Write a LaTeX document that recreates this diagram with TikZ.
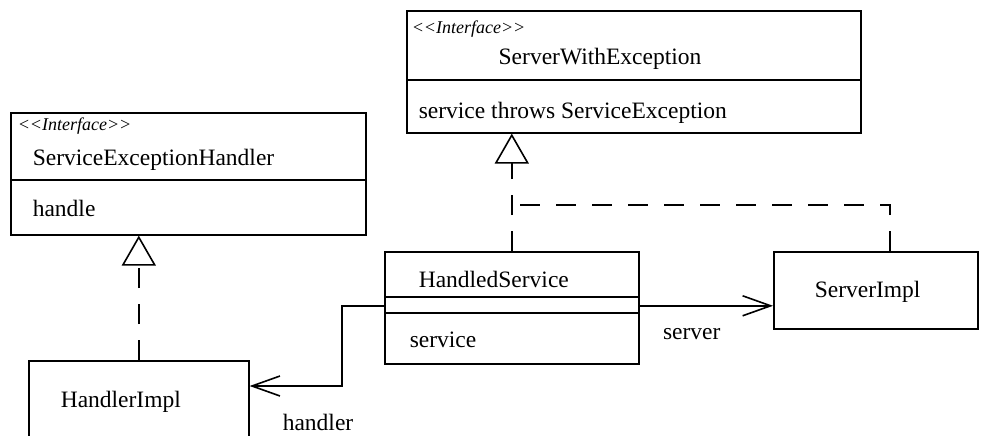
\documentclass[tikz,border=0pt]{standalone}
\usepackage{fontspec}
\setmainfont{Liberation Serif}
\usetikzlibrary{arrows.meta}

\begin{document}
\begin{tikzpicture}[x=1pt, y=-1pt, line width=1.6pt,
  classbox/.style={draw, inner sep=0, anchor=north west},
  txt/.style={anchor=west, inner sep=0, font=\fontsize{23.5}{27}\selectfont},
  stereo/.style={anchor=west, inner sep=0, font=\fontsize{18}{21}\selectfont\itshape},
  realize/.style={dash pattern=on 20pt off 16pt, -{Triangle[open, length=30pt, width=34pt]}},
  assoc/.style={-{Straight Barb[length=28pt, width=20pt]}}]

  \useasboundingbox (0,0) rectangle (989,436);
  \clip (0,0) rectangle (989,436);

  % class boxes
  \node[classbox, minimum width=355, minimum height=122] (SEH) at (10,112) {};
  \node[classbox, minimum width=454, minimum height=122] (SWE) at (406,10) {};
  \node[classbox, minimum width=254, minimum height=112] (HS) at (384,251) {};
  \node[classbox, minimum width=204, minimum height=77] (SI) at (773,251) {};
  \node[classbox, minimum width=220, minimum height=120] (HI) at (28,360) {};

  \draw (SEH.west |- 0,180) -- (SEH.east |- 0,180);
  \draw (SWE.west |- 0,80) -- (SWE.east |- 0,80);
  \draw (HS.west |- 0,297) -- (HS.east |- 0,297);
  \draw (HS.west |- 0,313) -- (HS.east |- 0,313);

  % texts
  \node[stereo] (SEHst) at (17,126) {{<}{<}Interface{>}{>}};
  \node[txt] (SEHname) at (32,160) {ServiceExceptionHandler};
  \node[txt] (SEHop) at (32,208) {handle};
  \node[stereo] (SWEst) at (411,29) {{<}{<}Interface{>}{>}};
  \node[txt, anchor=center] (SWEname) at (600,59) {ServerWithException};
  \node[txt] (SWEop) at (418,113) {service throws ServiceException};
  \node[txt] (HSname) at (418,279) {HandledService};
  \node[txt] (HSop) at (409,340) {service};
  \node[txt] (SIname) at (814,292) {ServerImpl};
  \node[txt] (HIname) at (60,402) {HandlerImpl};

  % realizations
  \draw[realize] (HI.north) -- (HI.north |- SEH.south);
  \draw[realize] (HS.north) -- (HS.north |- SWE.south);
  \coordinate (J) at (HS.north |- 0,205);
  \draw[dash pattern=on 20pt off 16pt] ([xshift=14pt]SI.north) |- (J);

  % associations
  \draw[assoc] ([yshift=2pt]HS.east) -- ([yshift=2pt]HS.east -| SI.west)
    node[txt, pos=0.17, yshift=-28pt] (srv) {server};
  \draw[assoc] ([yshift=2pt]HS.west) -- ++(-42,0) |- ([yshift=-26pt]HI.north east);
  \node[txt] (hdl) at (282,422) {handler};
\end{tikzpicture}
\end{document}
